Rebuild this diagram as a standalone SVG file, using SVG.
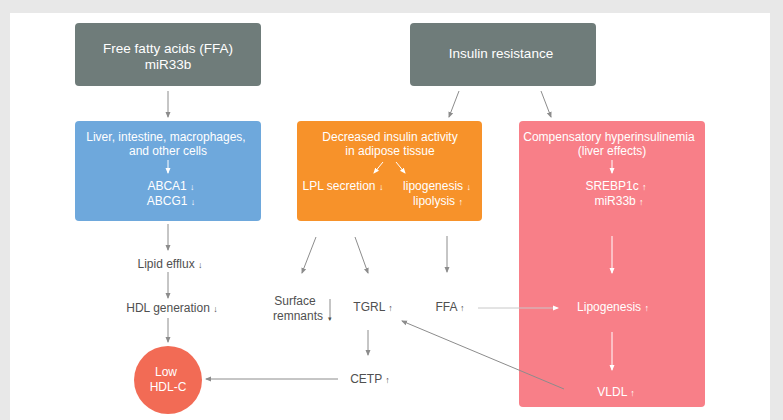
<svg xmlns="http://www.w3.org/2000/svg" width="783" height="420" viewBox="0 0 783 420">
<defs>
<marker id="ah" viewBox="0 0 6 6" refX="5" refY="3" markerWidth="6" markerHeight="6" orient="auto" markerUnits="userSpaceOnUse"><path d="M0,0.5 L6,3 L0,5.5 z" fill="#8c8c8c"/></marker>
<marker id="aw" viewBox="0 0 6 6" refX="5" refY="3" markerWidth="6" markerHeight="6" orient="auto" markerUnits="userSpaceOnUse"><path d="M0,0.5 L6,3 L0,5.5 z" fill="#ffffff"/></marker>
<style>
text{font-family:"Liberation Sans",Arial,sans-serif;text-anchor:middle}
.h{font-size:13.5px;fill:#ffffff}
.w{font-size:12px;fill:#ffffff}
.d{font-size:12px;fill:#505050}
.s{font-size:9px}
.c{stroke:#8c8c8c;stroke-width:1;fill:none;marker-end:url(#ah)}
.cw{stroke:#ffffff;stroke-width:1;fill:none;marker-end:url(#aw)}
</style>
</defs>
<rect x="0" y="0" width="783" height="420" fill="#e8e8e8"/>
<rect x="10" y="13" width="760" height="410" fill="#ffffff"/>

<g id="ffa-source">
<rect x="75" y="23" width="186" height="63" rx="4" fill="#6f7c7a"/>
<text class="h" x="168" y="53">Free fatty acids (FFA)</text>
<text class="h" x="168" y="69">miR33b</text>
</g>
<g id="insulin-resistance">
<rect x="410" y="23" width="186" height="63" rx="4" fill="#6f7c7a"/>
<text class="h" x="501" y="58">Insulin resistance</text>
</g>
<g id="liver-cells">
<rect x="75" y="121" width="186" height="100" rx="4" fill="#6ea8dc"/>
<text class="w" x="166" y="141">Liver, intestine, macrophages,</text>
<text class="w" x="168" y="155">and other cells</text>
<line class="cw" x1="168" y1="160" x2="168" y2="173"/>
<text class="w" x="171" y="190">ABCA1 <tspan class="s">↓</tspan></text>
<text class="w" x="171" y="205">ABCG1 <tspan class="s">↓</tspan></text>
</g>
<g id="adipose">
<rect x="297" y="121" width="185" height="100" rx="4" fill="#f7922a"/>
<text class="w" x="390" y="141">Decreased insulin activity</text>
<text class="w" x="390" y="155">in adipose tissue</text>
<line class="cw" x1="383" y1="162" x2="374" y2="173"/>
<line class="cw" x1="396" y1="162" x2="405" y2="173"/>
<text class="w" x="343" y="190">LPL secretion <tspan class="s">↓</tspan></text>
<text class="w" x="437" y="190">lipogenesis <tspan class="s">↓</tspan></text>
<text class="w" x="438" y="205">lipolysis <tspan class="s">↑</tspan></text>
</g>
<g id="hyperinsulinemia">
<rect x="519" y="121" width="186" height="286" rx="4" fill="#f87f88"/>
<text class="w" x="609" y="141">Compensatory hyperinsulinemia</text>
<text class="w" x="612" y="155">(liver effects)</text>
<line class="cw" x1="612" y1="160" x2="612" y2="173"/>
<text class="w" x="616" y="190">SREBP1c <tspan class="s">↑</tspan></text>
<text class="w" x="619" y="205">miR33b   <tspan class="s">↑</tspan></text>
<text class="w" x="613" y="311">Lipogenesis <tspan class="s">↑</tspan></text>
<text class="w" x="616" y="396">VLDL <tspan class="s">↑</tspan></text>
</g>
<g id="lipid-efflux"><text class="d" x="170" y="268">Lipid efflux <tspan class="s">↓</tspan></text></g>
<g id="hdl-generation"><text class="d" x="172" y="312">HDL generation <tspan class="s">↓</tspan></text></g>
<g id="low-hdl">
<circle cx="168" cy="380" r="34" fill="#f26b55"/>
<text class="w" x="166" y="376">Low</text>
<text class="w" x="168" y="391">HDL-C</text>
</g>
<g id="surface-remnants">
<text class="d" x="295" y="305">Surface</text>
<text class="d" x="298" y="320">remnants</text>
<line class="c" x1="330" y1="299" x2="330" y2="320" style="marker-end:none"/>
<text class="d" x="330" y="321" style="font-size:7px">▾</text>
</g>
<g id="tgrl"><text class="d" x="373" y="311">TGRL <tspan class="s">↑</tspan></text></g>
<g id="ffa"><text class="d" x="450" y="311">FFA <tspan class="s">↑</tspan></text></g>
<g id="cetp"><text class="d" x="370" y="383">CETP <tspan class="s">↑</tspan></text></g>

<g id="connectors">
<line class="c" x1="168" y1="91" x2="168" y2="117"/>
<line class="c" x1="459" y1="91" x2="449" y2="117"/>
<line class="c" x1="541" y1="91" x2="551" y2="117"/>
<line class="c" x1="168" y1="224" x2="168" y2="250"/>
<line class="c" x1="168" y1="272" x2="168" y2="298"/>
<line class="c" x1="168" y1="318" x2="168" y2="342"/>
<line class="c" x1="316" y1="237" x2="302" y2="273"/>
<line class="c" x1="355" y1="237" x2="368" y2="273"/>
<line class="c" x1="447" y1="236" x2="447" y2="272"/>
<line class="c" x1="368" y1="330" x2="368" y2="355"/>
<line class="c" x1="338" y1="379" x2="206" y2="379"/>
<line class="cw" x1="478" y1="308" x2="558" y2="308" style="stroke:#c8c8c8"/>
<line class="cw" x1="612" y1="236" x2="612" y2="273"/>
<line class="cw" x1="612" y1="332" x2="612" y2="370"/>
<line class="c" x1="564" y1="389" x2="402" y2="321"/>
</g>
</svg>
